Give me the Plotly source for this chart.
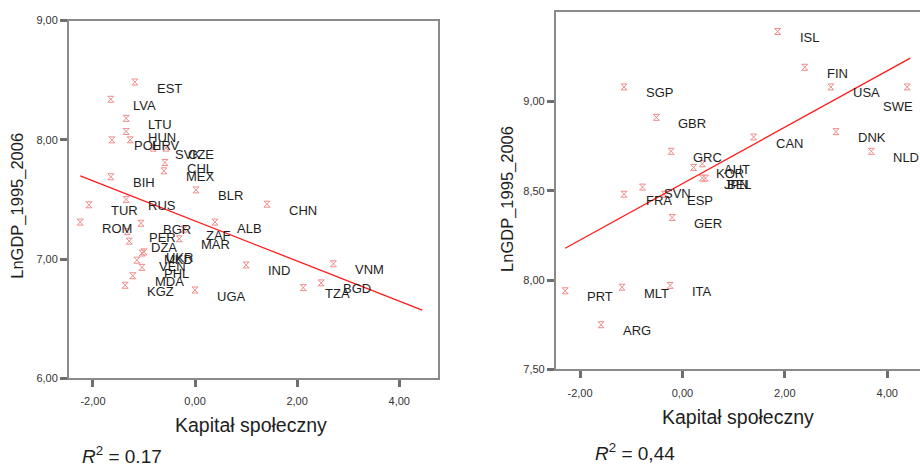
import numpy as np
import plotly.graph_objects as go

# ---- Data: social capital vs. log GDP (1995-2006) ----
# Transition / developing economies
left_codes = ["EST", "LVA", "LTU", "HUN", "POL", "HRV", "SVK", "CZE", "CHL", "MEX",
              "BIH", "BLR", "RUS", "TUR", "ROM", "BGR", "PER", "DZA", "MKD", "UKR",
              "VEN", "PHL", "MDA", "KGZ", "ZAF", "MAR", "ALB", "UGA", "IND", "CHN",
              "VNM", "TZA", "BGD"]
left_capital = [-1.18, -1.65, -1.35, -1.35, -1.63, -1.27, -0.82, -0.57, -0.59, -0.61,
                -1.65, 0.02, -1.35, -2.08, -2.25, -1.06, -1.33, -1.29, -1.04, -1.00,
                -1.14, -1.04, -1.22, -1.37, -0.22, -0.31, 0.39, 0.00, 1.00, 1.41,
                2.71, 2.12, 2.47]
left_lngdp = [8.485, 8.34, 8.18, 8.07, 8.00, 8.00, 7.93, 7.93, 7.81, 7.74,
              7.69, 7.58, 7.50, 7.455, 7.31, 7.30, 7.23, 7.15, 7.05, 7.06,
              6.99, 6.93, 6.86, 6.78, 7.25, 7.17, 7.31, 6.74, 6.95, 7.46,
              6.96, 6.76, 6.80]
left_r2_text = "<i>R</i><sup>2</sup> = 0.17"

# Developed economies
right_codes = ["SGP", "GBR", "GRC", "KOR", "AUT", "JPN", "BEL", "FRA", "SVN", "ESP",
               "GER", "CAN", "ISL", "FIN", "USA", "SWE", "DNK", "NLD", "PRT", "MLT",
               "ITA", "ARG"]
right_capital = [-1.14, -0.51, -0.22, 0.22, 0.39, 0.39, 0.45, -1.14, -0.78, -0.35,
                 -0.20, 1.39, 1.86, 2.39, 2.90, 4.39, 3.00, 3.69, -2.29, -1.18,
                 -0.24, -1.59]
right_lngdp = [9.08, 8.91, 8.72, 8.63, 8.65, 8.57, 8.57, 8.48, 8.52, 8.48,
               8.35, 8.80, 9.39, 9.19, 9.08, 9.08, 8.83, 8.72, 7.94, 7.96,
               7.97, 7.75]
right_r2_text = "<i>R</i><sup>2</sup> = 0,44"

left_xticks = [-2, 0, 2, 4]
left_xticktext = ["-2,00", "0,00", "2,00", "4,00"]
left_yticks = [6, 7, 8, 9]
left_yticktext = ["6,00", "7,00", "8,00", "9,00"]
right_xticks = [-2, 0, 2, 4]
right_xticktext = ["-2,00", "0,00", "2,00", "4,00"]
right_yticks = [7.5, 8.0, 8.5, 9.0]
right_yticktext = ["7,50", "8,00", "8,50", "9,00"]

x_title = "Kapitał społeczny"
y_title = "LnGDP_1995_2006"
fit_x_end = 4.45

# ---- Styling ----
FONT = "Liberation Sans, Arial, sans-serif"
AXIS_GREY = "#8a8a8a"
MARKER_RED = "#f08c8c"
LINE_RED = "#ff1a1a"
TEXT = "#1e1e1e"

# label placement relative to its marker (pixels); default right & slightly below
LABEL_DX, LABEL_DY = 20, -6
label_override = {"SWE": (-26, -20)}

fig = go.Figure()


def add_panel(codes, xs, ys, xref, yref):
    xs = np.asarray(xs, float)
    ys = np.asarray(ys, float)
    fig.add_trace(go.Scatter(
        x=xs, y=ys, mode="markers", xaxis=xref, yaxis=yref,
        marker=dict(symbol="hourglass-open", size=6, color=MARKER_RED,
                    line=dict(color=MARKER_RED, width=1)),
        hoverinfo="skip", showlegend=False))
    # least-squares fit line
    slope, intercept = np.polyfit(xs, ys, 1)
    lx = np.array([xs.min(), fit_x_end])
    fig.add_trace(go.Scatter(
        x=lx, y=intercept + slope * lx, mode="lines", xaxis=xref, yaxis=yref,
        line=dict(color=LINE_RED, width=1.3), hoverinfo="skip", showlegend=False))
    for c, x, y in zip(codes, xs, ys):
        dx, dy = label_override.get(c, (LABEL_DX, LABEL_DY))
        fig.add_annotation(
            x=x, y=y, xref=xref, yref=yref, text=c, showarrow=False,
            xanchor="left", yanchor="middle", xshift=dx, yshift=dy,
            font=dict(family=FONT, size=13, color=TEXT))


add_panel(left_codes, left_capital, left_lngdp, "x", "y")
add_panel(right_codes, right_capital, right_lngdp, "x2", "y2")

axis_common = dict(
    showgrid=False, zeroline=False, showline=True, linecolor=AXIS_GREY, linewidth=2,
    ticks="outside", ticklen=7, tickwidth=3, tickcolor="#6e6e6e",
    tickfont=dict(family=FONT, size=11, color="#333333"), tickmode="array",
)
x_extra = dict(ticklabelstandoff=5)

fig.update_layout(
    width=920, height=469,
    margin=dict(l=0, r=0, t=0, b=0),
    paper_bgcolor="white", plot_bgcolor="white",
    xaxis=dict(axis_common, **x_extra, domain=[0.075, 0.4761], range=[-2.47, 4.76],
               tickvals=left_xticks, ticktext=left_xticktext, anchor="y", mirror=True),
    yaxis=dict(axis_common, domain=[0.1855, 0.968], range=[6, 9],
               tickvals=left_yticks, ticktext=left_yticktext, anchor="x", mirror=True),
    xaxis2=dict(axis_common, **x_extra, domain=[0.6043, 1.0], range=[-2.47, 4.64],
                tickvals=right_xticks, ticktext=right_xticktext, anchor="y2", mirror=True),
    yaxis2=dict(axis_common, domain=[0.2047, 0.9872], range=[7.5, 9.5],
                tickvals=right_yticks, ticktext=right_yticktext, anchor="x2", mirror=False),
)

ytitle_font = dict(family=FONT, size=16.5, color=TEXT)
xtitle_font = dict(family=FONT, size=19.5, color=TEXT)
r2_font = dict(family=FONT, size=19, color=TEXT)
paper_texts = [
    dict(x=18 / 920, y=(469 - 205) / 469, text=y_title, textangle=-90, font=ytitle_font,
         xanchor="center", yanchor="middle"),
    dict(x=508 / 920, y=(469 - 198) / 469, text=y_title, textangle=-90, font=ytitle_font,
         xanchor="center", yanchor="middle"),
    dict(x=251 / 920, y=(469 - 430) / 469, text=x_title, font=xtitle_font,
         xanchor="center", yanchor="middle"),
    dict(x=738 / 920, y=(469 - 422) / 469, text=x_title, font=xtitle_font,
         xanchor="center", yanchor="middle"),
    dict(x=80 / 920, y=(469 - 461) / 469, text=left_r2_text, font=r2_font,
         xanchor="left", yanchor="middle"),
    dict(x=593 / 920, y=(469 - 458) / 469, text=right_r2_text, font=r2_font,
         xanchor="left", yanchor="middle"),
]
for t in paper_texts:
    fig.add_annotation(xref="paper", yref="paper", showarrow=False, **t)

fig.write_html("out.html")
